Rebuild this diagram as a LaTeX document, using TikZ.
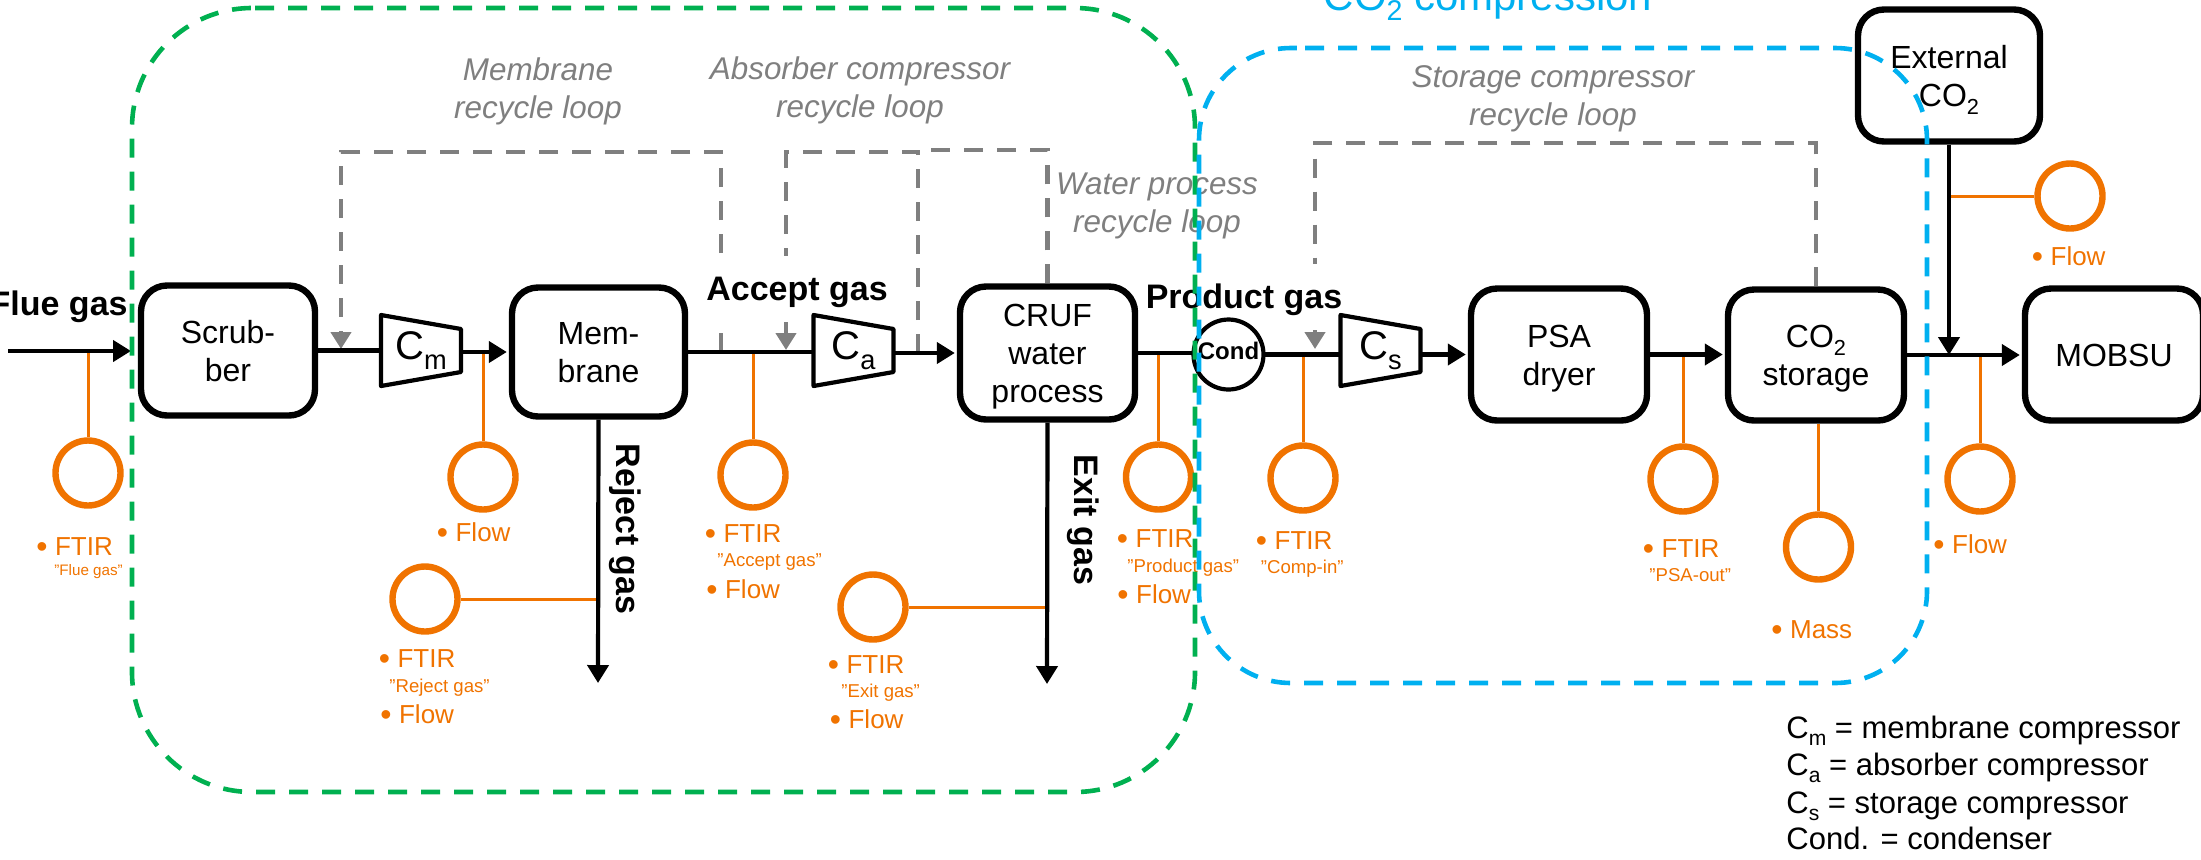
\documentclass[tikz,border=0pt]{standalone}
\usepackage{fontspec}
\setmainfont{Liberation Sans}
\usetikzlibrary{arrows.meta,calc}
\pgfdeclarelayer{bg}\pgfdeclarelayer{top}\pgfsetlayers{bg,main,top}
\definecolor{grn}{HTML}{00B050}
\definecolor{blu}{HTML}{00B0F0}
\definecolor{org}{HTML}{F07300}
\definecolor{gry}{HTML}{7F7F7F}
\newcommand\tl[1]{\raisebox{0pt}[11.6pt][0pt]{#1}}
\newcommand\sbs[1]{\raisebox{-0.25em}{\scalebox{.68}{#1}}}
\newcommand\blt{\raisebox{-1pt}{\fontsize{16}{15}\selectfont •}\hspace{3.75pt}}
\tikzset{
 x=0.5pt,y=-0.5pt,
 procbox/.style={draw,line width=3.2pt,rounded corners=13pt,fill=white,align=center,inner sep=0pt,outer sep=1.6pt,font=\fontsize{16}{19}\selectfont},
 comp/.style={inner sep=0pt,outer sep=0pt,minimum width=40pt,minimum height=35.5pt,font=\fontsize{20}{24}\selectfont},
 compline/.style={draw,line width=2.1pt,line join=round},
 flow/.style={draw,line width=2.1pt,-{Triangle[length=9pt,width=10.5pt]},shorten >=1pt},
 plain/.style={draw,line width=2.1pt},
 loopline/.style={draw=gry,line width=2.3pt,dash pattern=on 9.5pt off 7pt},
 looptip/.style={loopline,-{Triangle[length=8.5pt,width=10pt]}},
 looplab/.style={text=gry,inner sep=0pt,align=center,font=\fontsize{15.7}{19}\selectfont\itshape},
 gaslab/.style={inner sep=0pt,font=\fontsize{17}{20}\selectfont\bfseries},
 sensor/.style={circle,draw=org,line width=3.2pt,minimum size=32.5pt,inner sep=0pt,fill=white},
 sline/.style={draw=org,line width=1.5pt},
 ol/.style={anchor=base west,inner sep=0pt,text=org,font=\fontsize{13}{15}\selectfont},
 oq/.style={anchor=base west,inner sep=0pt,text=org,font=\fontsize{9.3}{11}\selectfont},
 legend/.style={anchor=base west,inner sep=0pt,font=\fontsize{15.5}{18}\selectfont},
 zone/.style={line width=2.3pt,dash pattern=on 9.5pt off 7pt,rounded corners=#1},
}
\begin{document}
\begin{tikzpicture}
\useasboundingbox (0,0) rectangle (2201,859);
% process boxes
\node[procbox,minimum width=87pt,minimum height=65pt] (scrub) at (228,350.5) {\tl{Scrub-}\\\tl{ber}};
\node[procbox,minimum width=86.5pt,minimum height=64.5pt] (memb) at (598.5,352) {\tl{Mem-}\\\tl{brane}};
\node[procbox,minimum width=87.5pt,minimum height=66.5pt] (cruf) at (1047.5,353) {\tl{CRUF}\\\tl{water}\\\tl{process}};
\node[procbox,minimum width=88pt,minimum height=66pt] (psa) at (1559,354.5) {\tl{PSA}\\\tl{dryer}};
\node[procbox,minimum width=88pt,minimum height=65.5pt] (co) at (1816,355) {\tl{CO\sbs{2}}\\\tl{storage}};
\node[procbox,minimum width=89pt,minimum height=66pt] (mobsu) at (2114,354.5) {\tl{MOBSU}};
\node[procbox,minimum width=91pt,minimum height=66pt] (ext) at (1949,75.5) {\tl{External}\\\tl{CO\sbs{2}}};
% compressors
\node[comp] (cm) at (421,350.5) {C\sbs{m}};
\node[comp] (ca) at (853.5,350.5) {C\sbs{a}\hspace{7pt}};
\node[comp] (cs) at (1380.5,350.5) {C\sbs{s}};
\foreach \n in {cm,ca,cs}{
 \path[compline] (\n.north west) -- (\n.south west) -- ([yshift=7pt]\n.south east) -- ([yshift=-7pt]\n.north east) -- cycle;
}
% condenser
\node[circle,draw,line width=2.1pt,fill=white,minimum size=35pt,inner sep=0pt,outer sep=0pt,font=\fontsize{12}{14}\selectfont\bfseries] (cond) at (1228.5,354.5) {\raisebox{-2.25pt}[0pt][0pt]{Cond}};
% sensors
\node[sensor] (s1) at (88,473) {};
\node[sensor] (s2) at (483,477) {};
\node[sensor] (s3) at (425,599) {};
\node[sensor] (s4) at (753,475) {};
\node[sensor] (s5) at (873,607) {};
\node[sensor] (s6) at (1158.5,477) {};
\node[sensor] (s7) at (1303,478) {};
\node[sensor] (s8) at (1683,479) {};
\node[sensor] (s9) at (1818.5,547) {};
\node[sensor] (s10) at (1980,479) {};
\node[sensor] (s11) at (2070,196) {};
% sensor texts
\node[ol] (t1) at (36,555) {\blt FTIR};
\node[oq,font=\fontsize{7.6}{9}\selectfont] (q1) at (54,575) {"Flue gas"};
\node[ol] (t2) at (436.5,541) {\blt Flow};
\node[ol] (t3) at (378.5,667) {\blt FTIR};
\node[oq] (q3) at (389,692) {"Reject gas"};
\node[ol] (f3) at (380,723) {\blt Flow};
\node[ol] (t4) at (704.5,542) {\blt FTIR};
\node[oq] (q4) at (717,566) {"Accept gas"};
\node[ol] (f4) at (706,598) {\blt Flow};
\node[ol] (t5) at (827.5,673) {\blt FTIR};
\node[oq] (q5) at (841,697) {"Exit gas"};
\node[ol] (f5) at (829.5,728) {\blt Flow};
\node[ol] (t6) at (1116.5,547) {\blt FTIR};
\node[oq] (q6) at (1127,572) {"Product gas"};
\node[ol] (f6) at (1117,603) {\blt Flow};
\node[ol] (t7) at (1255.5,549) {\blt FTIR};
\node[oq] (q7) at (1260.5,573) {"Comp-in"};
\node[ol] (t8) at (1642.5,557) {\blt FTIR};
\node[oq] (q8) at (1649,581) {"PSA-out"};
\node[ol] (t9) at (1771,638) {\blt Mass};
\node[ol] (t10) at (1933,553) {\blt Flow};
\node[ol] (t11) at (2031.5,265) {\blt Flow};
% loop labels
\node[looplab] (lm) at (538,87.4) {\tl{Membrane}\\\tl{recycle loop}};
\node[looplab] (la) at (860,86.4) {\tl{Absorber compressor}\\\tl{recycle loop}};
\node[looplab] (lw) at (1157,201.4) {\tl{Water process}\\\tl{recycle loop}};
\node[looplab] (ls) at (1553,94.9) {\tl{Storage compressor}\\\tl{recycle loop}};
% gas labels
\node[gaslab,anchor=base east] (flue) at (128,315) {Flue gas};
\node[gaslab,rotate=-90,anchor=base] (rej) at (616,529) {Reject gas};
\node[gaslab,rotate=-90,anchor=base] (exi) at (1074,520) {Exit gas};
% zone title
\node[anchor=base,inner sep=0pt,text=blu,font=\fontsize{21}{25}\selectfont] (zt) at (1488,10) {CO\sbs{2} compression};
% legend
\node[legend] (l1) at (1786,738) {C\sbs{m} = membrane compressor};
\node[legend] (l2) at (1786,775) {C\sbs{a} = absorber compressor};
\node[legend] (l3) at (1786,813) {C\sbs{s} = storage compressor};
\node[legend] (l4) at (1786,849) {Cond. = condenser};
% free ends
\coordinate (fin) at (8,351);
\coordinate (ftip) at (131,351);
\coordinate (rtip) at (598,683);
\coordinate (etip) at (1047,684);
\coordinate (xtip) at (1949,355);
\coordinate (mbase) at (721,352);
\coordinate (mtr) at (721,152);
\coordinate (mtl) at (341,152);
\coordinate (mtip) at (341,349);
\coordinate (abase) at (918,353);
\coordinate (atr) at (918,152);
\coordinate (atl) at (786,152);
\coordinate (atip) at (786,350);
\coordinate (wtl) at (918,150);
\coordinate (stl) at (1315,143);
\coordinate (stip) at (1315,349);
\coordinate (b1) at (88,352);
\coordinate (b2) at (483,353);
\coordinate (b4) at (753,353);
\coordinate (b6) at (1158.5,354);
\coordinate (b7) at (1303,354);
\coordinate (b8) at (1683,355);
\coordinate (b10) at (1980,356);
\coordinate (b3) at (598,599);
\coordinate (b5) at (1047,607);
\coordinate (b11) at (1949,196);
\begin{pgfonlayer}{bg}
 % gray recycle loops
 \draw[looptip] (mbase) -- (mtr) -- (mtl) -- (mtip);
 \draw[looptip] (abase) -- (atr) -- (atl) -- (atip);
 \draw[loopline] (cruf.north) |- (wtl) -- (atr);
 \draw[looptip] (co.north) |- (stl) -- (stip);
 % white-backed labels
 \node[gaslab,fill=white,minimum width=107.5pt,minimum height=33pt] (acc) at (797,289) {\raisebox{-5.5pt}[0pt][0pt]{Accept gas}};
 \node[gaslab,fill=white,minimum width=105pt,minimum height=33pt] (prod) at (1244,297) {\raisebox{-5.5pt}[0pt][0pt]{Product gas}};
 % sensor leads
 \draw[sline] (b1) -- (s1); \draw[sline] (b2) -- (s2); \draw[sline] (b4) -- (s4);
 \draw[sline] (b6) -- (s6); \draw[sline] (b7) -- (s7); \draw[sline] (b8) -- (s8);
 \draw[sline] (b10) -- (s10); \draw[sline] (co.south -| s9) -- (s9);
 \draw[sline] (b3) -- (s3); \draw[sline] (b5) -- (s5); \draw[sline] (b11) -- (s11);
 % main flow
 \draw[flow,shorten >=0pt] (fin) -- (ftip);
 \draw[plain] (scrub.east) -- (scrub.east -| cm.west);
 \draw[flow] (memb.west -| cm.east) -- (memb.west);
 \draw[plain] (memb.east) -- (memb.east -| ca.west);
 \draw[flow] (cruf.west -| ca.east) -- (cruf.west);
 \draw[plain] (cruf.east) -- (cruf.east -| cond.west);
 \draw[plain] (cond.east) -- (cond.east -| cs.west);
 \draw[flow] (psa.west -| cs.east) -- (psa.west);
 \draw[flow] (psa.east) -- (psa.east -| co.west);
 \draw[flow] (co.east) -- (co.east -| mobsu.west);
 \draw[flow,shorten >=0pt] (memb.south) -- (rtip);
 \draw[flow,shorten >=0pt] (cruf.south) -- (etip);
 \draw[flow,shorten >=0pt] (ext.south) -- (xtip);
\end{pgfonlayer}
\begin{pgfonlayer}{top}
 \coordinate (gs) at (255,8);
 \coordinate (ge) at (1195,792);
 \coordinate (gw) at (132,8);
 \draw[zone=60pt,draw=grn] (gs) -- (ge |- gs) -- (ge) -- (ge -| gw) -- (gw) -- (gs);
 \coordinate (bs) at (1305,48);
 \coordinate (be) at (1927,683);
 \coordinate (bw) at (1199,48);
 \draw[zone=46pt,draw=blu] (bs) -- (be |- bs) -- (be) -- (be -| bw) -- (bw) -- (bs);
\end{pgfonlayer}
\end{tikzpicture}
\end{document}
